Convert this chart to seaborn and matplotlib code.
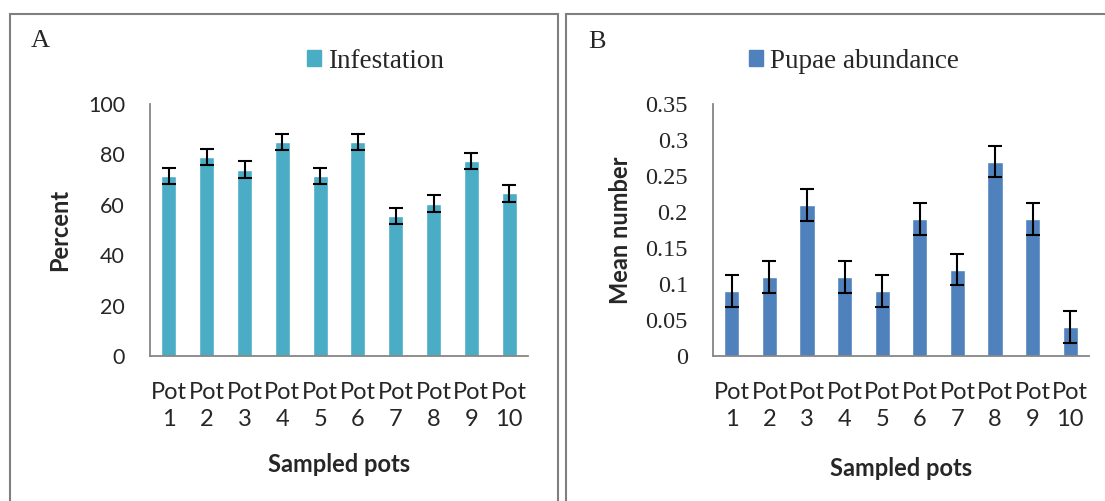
import numpy as np
import matplotlib
matplotlib.use("Agg")
import matplotlib.pyplot as plt
import matplotlib.patches as mpatches
from matplotlib.ticker import FixedLocator, NullFormatter
import seaborn as sns

pots = [f"Pot\n{i}" for i in range(1, 11)]
infestation = [71.5, 79.0, 74.0, 85.0, 71.5, 85.0, 55.5, 60.5, 77.5, 64.5]
infestation_err = [3.2, 3.2, 3.2, 3.2, 3.2, 3.2, 3.2, 3.2, 3.2, 3.2]
pupae = [0.09, 0.11, 0.21, 0.11, 0.09, 0.19, 0.12, 0.27, 0.19, 0.04]
pupae_err = [0.022, 0.022, 0.022, 0.022, 0.022, 0.022, 0.022, 0.022, 0.022, 0.022]

sns.set_style("white")
plt.rcParams['font.family'] = ['Lato', 'DejaVu Sans']

W, H = 1105, 501
fig = plt.figure(figsize=(W / 100, H / 100), dpi=100)
axis_grey = "#868686"
serif = 'Liberation Serif'


def px_axes(x0, x1, y_top, y_bot):
    return fig.add_axes([x0 / W, 1 - y_bot / H, (x1 - x0) / W, (y_bot - y_top) / H])


def draw_panel(ax, values, errs, color, ymax, yticks, ylabels, tick_font, tick_size,
               ylabel, ylab_x, xlab_y, legend_text, legend_x):
    sns.barplot(x=pots, y=values, color=color, width=0.4, ax=ax, saturation=1)
    ax.errorbar(np.arange(len(values)), values, yerr=errs, fmt='none',
                ecolor='black', elinewidth=1.5, capsize=5, capthick=1.5)
    ax.set_xlim(-0.5, len(values) - 0.5)
    ax.set_ylim(0, ymax)
    ax.set_yticks(yticks)
    ax.set_yticklabels(ylabels, family=tick_font, fontsize=tick_size)
    ax.xaxis.set_minor_locator(FixedLocator(np.arange(-0.5, len(values), 1.0)))
    ax.xaxis.set_minor_formatter(NullFormatter())
    ax.tick_params(axis='x', which='major', length=0, pad=19, labelsize=17)
    ax.tick_params(axis='x', which='minor', length=8, width=1.3, color=axis_grey, direction='out')
    ax.tick_params(axis='y', length=7, width=1.3, color=axis_grey, direction='out', pad=11)
    for lbl in ax.get_xticklabels():
        lbl.set_linespacing(1.35)
    for side in ['top', 'right']:
        ax.spines[side].set_visible(False)
    for side in ['left', 'bottom']:
        ax.spines[side].set_color(axis_grey)
        ax.spines[side].set_linewidth(1.3)
    ax.set_xlabel("Sampled pots", fontsize=17, fontweight='bold', va='center')
    ax.xaxis.set_label_coords(0.5, xlab_y)
    ax.set_ylabel(ylabel, fontsize=17, fontweight='bold', va='center')
    ax.yaxis.set_label_coords(ylab_x, 0.5)
    handle = mpatches.Patch(color=color, label=legend_text)
    ax.legend(handles=[handle], loc='center left',
              bbox_to_anchor=(legend_x / W, 1 - 61 / H), bbox_transform=fig.transFigure,
              frameon=False, prop={'family': serif, 'size': 19.5},
              borderpad=0, borderaxespad=0,
              handlelength=0.52, handleheight=0.52, handletextpad=0.25)


# panel frames
fig.add_artist(mpatches.Rectangle((10 / W, -0.1), 548 / W, 1.1 - 14 / H,
                                  transform=fig.transFigure, fill=False,
                                  edgecolor="#7f7f7f", linewidth=1.5))
fig.add_artist(mpatches.Rectangle((566 / W, -0.1), 600 / W, 1.1 - 14 / H,
                                  transform=fig.transFigure, fill=False,
                                  edgecolor="#7f7f7f", linewidth=1.5))

ax1 = px_axes(150, 528, 104, 356)
draw_panel(ax1, infestation, infestation_err, "#4BACC6", 100,
           [0, 20, 40, 60, 80, 100], ["0", "20", "40", "60", "80", "100"],
           'Lato', 15.5, "Percent", (60 - 150) / 378, (356 - 464) / 252,
           "Infestation", 307)

ax2 = px_axes(713, 1089, 104, 356)
b_ticks = [0, 0.05, 0.1, 0.15, 0.2, 0.25, 0.3, 0.35]
draw_panel(ax2, pupae, pupae_err, "#4F81BD", 0.35,
           b_ticks, ["0", "0.05", "0.1", "0.15", "0.2", "0.25", "0.3", "0.35"],
           serif, 17.5, "Mean number", (620 - 713) / 376, (356 - 468) / 252,
           "Pupae abundance", 749)

fig.text(31 / W, 1 - 41 / H, "A", family=serif, fontsize=19, va='center')
fig.text(588 / W, 1 - 42 / H, "B", family=serif, fontsize=19, va='center')

fig.savefig("out.png", dpi=100)
